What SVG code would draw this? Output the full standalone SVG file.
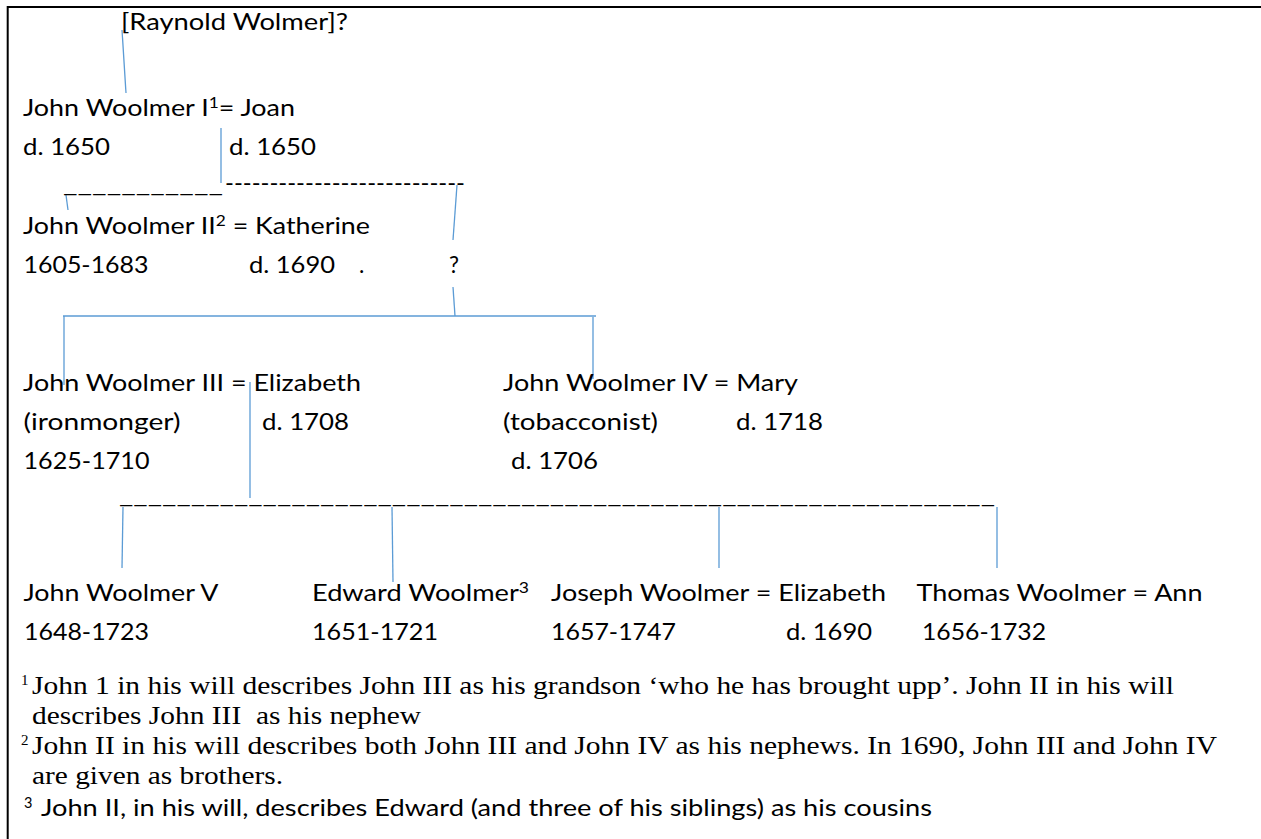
<svg xmlns="http://www.w3.org/2000/svg" width="1261" height="839" viewBox="0 0 1261 839">
<style>
.t{font-family:Lato,"Liberation Sans",sans-serif;font-size:22.5px;fill:#000}
.s{font-size:14.5px}
.f{font-family:"Liberation Serif","Times New Roman",serif;font-size:24.5px;fill:#000}
.fs{font-size:15px}
.c{stroke:#5B9BD5;stroke-width:1.3;fill:none}
</style>
<rect x="0" y="0" width="1261" height="839" fill="#fff"/>
<path d="M1270 7 H7.7 V850" fill="none" stroke="#000" stroke-width="2"/>

<g id="connectors">
  <line class="c" x1="122" y1="30" x2="126" y2="93"/>
  <line class="c" x1="221" y1="128" x2="221" y2="183"/>
  <line class="c" x1="66" y1="195" x2="68" y2="210"/>
  <line class="c" x1="457" y1="185" x2="453" y2="240"/>
  <line class="c" x1="453" y1="287" x2="455" y2="316"/>
  <line class="c" x1="63" y1="316" x2="596" y2="316"/>
  <line class="c" x1="64" y1="316" x2="64" y2="385"/>
  <line class="c" x1="593" y1="317" x2="593" y2="379"/>
  <line class="c" x1="250" y1="382" x2="250" y2="498"/>
  <line class="c" x1="123" y1="507" x2="122" y2="568"/>
  <line class="c" x1="392" y1="507" x2="393" y2="582"/>
  <line class="c" x1="719" y1="507" x2="719" y2="568"/>
  <line class="c" x1="997" y1="507" x2="997" y2="568"/>
  <text class="t" x="63" y="192" textLength="160" lengthAdjust="spacingAndGlyphs">___________</text>
  <text class="t" x="225" y="191" textLength="240" lengthAdjust="spacingAndGlyphs">---------------------------</text>
  <text class="t" x="119" y="503" textLength="876" lengthAdjust="spacingAndGlyphs">_____________________________________________________________</text>
</g>

<g id="raynold">
  <text class="t" x="121" y="30" textLength="227" lengthAdjust="spacingAndGlyphs">[Raynold Wolmer]?</text>
</g>

<g id="john1">
  <text class="t" x="23" y="116" textLength="272" lengthAdjust="spacingAndGlyphs">John Woolmer I<tspan class="s" dy="-8">1</tspan><tspan dy="8">= Joan</tspan></text>
  <text class="t" x="23" y="155" textLength="87" lengthAdjust="spacingAndGlyphs">d. 1650</text>
  <text class="t" x="229" y="155" textLength="87" lengthAdjust="spacingAndGlyphs">d. 1650</text>
</g>

<g id="john2">
  <text class="t" x="23" y="234" textLength="347" lengthAdjust="spacingAndGlyphs">John Woolmer II<tspan class="s" dy="-8">2</tspan><tspan dy="8"> = Katherine</tspan></text>
  <text class="t" x="23.5" y="273" textLength="125" lengthAdjust="spacingAndGlyphs">1605-1683</text>
  <text class="t" x="249" y="273" textLength="86" lengthAdjust="spacingAndGlyphs">d. 1690</text>
  <text class="t" x="359" y="273">.</text>
</g>

<g id="unknown">
  <text class="t" x="449" y="273" textLength="10" lengthAdjust="spacingAndGlyphs">?</text>
</g>

<g id="john3">
  <text class="t" x="23" y="391" textLength="338" lengthAdjust="spacingAndGlyphs">John Woolmer III = Elizabeth</text>
  <text class="t" x="23.5" y="430" textLength="157" lengthAdjust="spacingAndGlyphs">(ironmonger)</text>
  <text class="t" x="262" y="430" textLength="87" lengthAdjust="spacingAndGlyphs">d. 1708</text>
  <text class="t" x="23.5" y="469" textLength="126" lengthAdjust="spacingAndGlyphs">1625-1710</text>
</g>

<g id="john4">
  <text class="t" x="503" y="391" textLength="295" lengthAdjust="spacingAndGlyphs">John Woolmer IV = Mary</text>
  <text class="t" x="503" y="430" textLength="155" lengthAdjust="spacingAndGlyphs">(tobacconist)</text>
  <text class="t" x="736" y="430" textLength="87" lengthAdjust="spacingAndGlyphs">d. 1718</text>
  <text class="t" x="511" y="469" textLength="87" lengthAdjust="spacingAndGlyphs">d. 1706</text>
</g>

<g id="john5">
  <text class="t" x="23.5" y="601" textLength="195" lengthAdjust="spacingAndGlyphs">John Woolmer V</text>
  <text class="t" x="24" y="640" textLength="125" lengthAdjust="spacingAndGlyphs">1648-1723</text>
</g>

<g id="edward">
  <text class="t" x="312" y="601" textLength="217" lengthAdjust="spacingAndGlyphs">Edward Woolmer<tspan class="s" dy="-8">3</tspan></text>
  <text class="t" x="312" y="640" textLength="126" lengthAdjust="spacingAndGlyphs">1651-1721</text>
</g>

<g id="joseph">
  <text class="t" x="551" y="601" textLength="335" lengthAdjust="spacingAndGlyphs">Joseph Woolmer = Elizabeth</text>
  <text class="t" x="551" y="640" textLength="125" lengthAdjust="spacingAndGlyphs">1657-1747</text>
  <text class="t" x="786" y="640" textLength="86" lengthAdjust="spacingAndGlyphs">d. 1690</text>
</g>

<g id="thomas">
  <text class="t" x="916.5" y="601" textLength="286" lengthAdjust="spacingAndGlyphs">Thomas Woolmer = Ann</text>
  <text class="t" x="922" y="640" textLength="124" lengthAdjust="spacingAndGlyphs">1656-1732</text>
</g>

<g id="footnotes">
  <text class="f fs" x="21" y="685">1</text>
  <text class="f" x="32" y="694" textLength="1142" lengthAdjust="spacingAndGlyphs">John 1 in his will describes John III as his grandson ‘who he has brought upp’. John II in his will</text>
  <text class="f" x="32" y="724" textLength="389" lengthAdjust="spacingAndGlyphs" xml:space="preserve">describes John III  as his nephew</text>
  <text class="f fs" x="21" y="745">2</text>
  <text class="f" x="32" y="754" textLength="1185" lengthAdjust="spacingAndGlyphs">John II in his will describes both John III and John IV as his nephews. In 1690, John III and John IV</text>
  <text class="f" x="32" y="784" textLength="251" lengthAdjust="spacingAndGlyphs">are given as brothers.</text>
  <text class="t s" x="24" y="808">3</text>
  <text class="t" x="41" y="816" textLength="891" lengthAdjust="spacingAndGlyphs">John II, in his will, describes Edward (and three of his siblings) as his cousins</text>
</g>
</svg>
